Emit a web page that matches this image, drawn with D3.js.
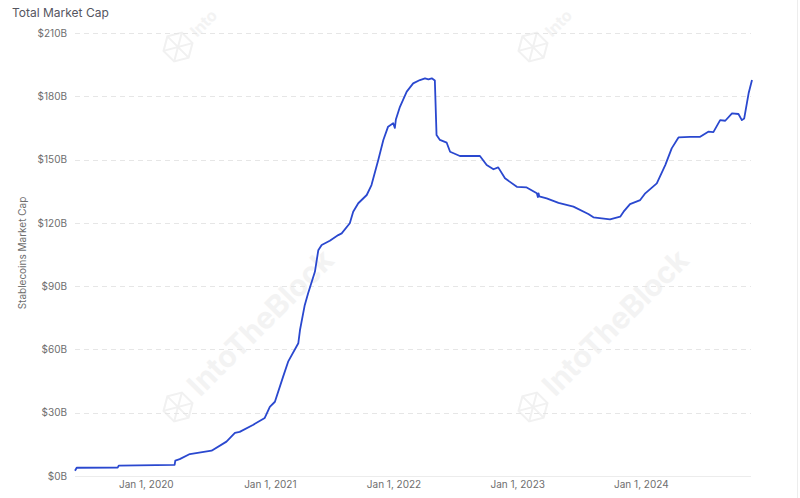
<!DOCTYPE html>
<html>
<head>
<meta charset="utf-8">
<script src="https://cdn.jsdelivr.net/npm/d3@7"></script>
<style>
  html, body { margin: 0; padding: 0; background: #fff; }
  svg { display: block; font-family: Inter, "Open Sans", sans-serif; }
</style>
</head>
<body>
<svg id="chart" width="800" height="498"></svg>
<script>
// ---- data ----
const title = "Total Market Cap";
const yAxisTitle = "Stablecoins Market Cap";
const yTicks = [0, 30, 60, 90, 120, 150, 180, 210];
const xTickDates = ["2020-01-01", "2021-01-01", "2022-01-01", "2023-01-01", "2024-01-01"];
const dates = [
  "2019-06-06","2019-06-11","2019-10-10","2019-10-13","2020-03-26","2020-03-28","2020-04-10","2020-05-10",
  "2020-07-13","2020-08-26","2020-09-20","2020-10-04","2020-11-12","2020-12-17","2021-01-01","2021-01-16",
  "2021-02-09","2021-02-24","2021-03-26","2021-03-31","2021-04-14","2021-04-24","2021-05-14","2021-05-24",
  "2021-06-03","2021-06-27","2021-07-22","2021-08-01","2021-08-25","2021-09-04","2021-09-19","2021-10-14",
  "2021-10-28","2021-11-17","2021-12-02","2021-12-16","2021-12-31","2022-01-05","2022-01-08","2022-01-20",
  "2022-02-09","2022-02-28","2022-03-20","2022-04-04","2022-04-14","2022-04-24","2022-05-03","2022-05-08",
  "2022-05-18","2022-06-07","2022-06-17","2022-07-16","2022-09-13","2022-10-03","2022-10-23","2022-11-06",
  "2022-11-26","2022-12-31","2023-01-29","2023-02-28","2023-03-03","2023-03-05","2023-03-07","2023-03-29",
  "2023-05-03","2023-06-16","2023-07-30","2023-08-14","2023-10-02","2023-11-01","2023-11-11","2023-11-30",
  "2023-12-30","2024-01-14","2024-02-17","2024-03-13","2024-04-01","2024-04-21","2024-05-25","2024-06-24",
  "2024-07-18","2024-08-02","2024-08-22","2024-09-06","2024-09-26","2024-10-15","2024-10-25","2024-11-01",
  "2024-11-14","2024-11-24"
];
const values = [
  2.5, 3.9, 4.0, 4.9, 5.3, 7.3, 8.0, 10.4,
  12.0, 16.3, 20.4, 20.9, 24.2, 27.5, 32.8, 35.2,
  47.0, 54.2, 62.9, 69.2, 81.0, 86.6, 96.8, 107.0,
  109.5, 111.5, 114.2, 115.0, 119.8, 125.3, 129.3, 133.2,
  137.9, 149.8, 159.3, 165.6, 167.2, 165.0, 169.0, 175.0,
  182.2, 186.1, 187.7, 188.5, 188.0, 188.5, 187.5, 161.6,
  159.3, 158.0, 153.7, 151.7, 151.7, 147.4, 145.4, 146.3,
  141.1, 137.1, 136.8, 134.0, 132.2, 134.0, 132.6, 131.6,
  129.5, 127.7, 124.2, 122.6, 121.7, 122.9, 125.3, 128.9,
  130.8, 134.0, 138.7, 147.4, 155.3, 160.5, 160.8, 160.8,
  163.2, 163.0, 168.7, 168.4, 171.9, 171.6, 168.7, 169.5,
  181.4, 187.7
];
const watermarkLabels = ["Into", "Into", "IntoTheBlock", "IntoTheBlock"];

// ---- drawing ----
const parse = d3.utcParse("%Y-%m-%d");
const data = dates.map((d, i) => ({ date: parse(d), value: values[i] }));
const svg = d3.select("#chart");

const x = d3.scaleUtc().domain(d3.extent(data, d => d.date)).range([75, 752]);
const y = d3.scaleLinear().domain([0, 210]).range([476, 33]);

// right border
svg.append("line").attr("x1", 797.5).attr("x2", 797.5).attr("y1", 0).attr("y2", 498)
  .attr("stroke", "#ededed").attr("stroke-width", 1);

// watermarks
const wm = svg.append("g").attr("fill", "none").attr("stroke", "#f1f1f1").attr("stroke-width", 2);
const wmPos = [[178, 47], [533, 47], [178, 407], [533, 407]];
wmPos.forEach(([cx, cy], i) => {
  const g = wm.append("g").attr("transform", `translate(${cx},${cy}) rotate(-45)`);
  const hex = d3.range(6).map(k => [15 * Math.cos(Math.PI / 3 * k + Math.PI / 6), 15 * Math.sin(Math.PI / 3 * k + Math.PI / 6)]);
  g.append("path").attr("d", "M" + hex.join("L") + "Z");
  g.append("path").attr("d", `M${hex[0]}L${hex[3]}M${hex[1]}L${hex[4]}M${hex[2]}L${hex[5]}`);
  const top = i < 2;
  g.append("text").attr("x", top ? 20 : 22).attr("y", top ? 7 : 9).attr("fill", "#f3f3f3").attr("stroke", "none")
    .attr("font-size", top ? 16 : 30).attr("font-weight", 700).text(watermarkLabels[i]);
});

// grid
const grid = svg.append("g");
grid.selectAll("line").data(yTicks.filter(v => v > 0)).join("line")
  .attr("x1", 75).attr("x2", 751)
  .attr("y1", d => Math.round(y(d)) + 0.5).attr("y2", d => Math.round(y(d)) + 0.5)
  .attr("stroke", "#e6e6e6").attr("stroke-dasharray", "5,4");
grid.append("line").attr("x1", 75).attr("x2", 751)
  .attr("y1", Math.round(y(0)) + 0.5).attr("y2", Math.round(y(0)) + 0.5)
  .attr("stroke", "#ececec");

// y axis
const yAxis = d3.axisLeft(y).tickValues(yTicks).tickSize(0).tickPadding(0)
  .tickFormat(d => `$${d}B`);
svg.append("g").attr("transform", "translate(67,0)").call(yAxis)
  .call(g => g.select(".domain").remove())
  .call(g => g.selectAll("text").attr("fill", "#6e6e6e").attr("font-size", 10)
    .attr("font-family", "Inter, sans-serif"));

// x axis
const xAxis = d3.axisBottom(x).tickValues(xTickDates.map(parse)).tickSize(0).tickPadding(0)
  .tickFormat(d3.utcFormat("Jan 1, %Y"));
svg.append("g").attr("transform", "translate(0,481)").call(xAxis)
  .call(g => g.select(".domain").remove())
  .call(g => g.selectAll("text").attr("fill", "#6e6e6e").attr("font-size", 10)
    .attr("font-family", "Inter, sans-serif"));

// line
svg.append("path").datum(data)
  .attr("fill", "none").attr("stroke", "#2a48cf").attr("stroke-width", 1.8)
  .attr("stroke-linejoin", "round")
  .attr("d", d3.line().x(d => x(d.date)).y(d => y(d.value)));

// titles
svg.append("text").attr("x", 12).attr("y", 17).attr("fill", "#55555f")
  .attr("font-size", 12).attr("font-weight", 400).text(title);
svg.append("text").attr("transform", "translate(26,253) rotate(-90)").attr("text-anchor", "middle")
  .attr("fill", "#6e6e6e").attr("font-size", 10).text(yAxisTitle);
</script>
</body>
</html>
